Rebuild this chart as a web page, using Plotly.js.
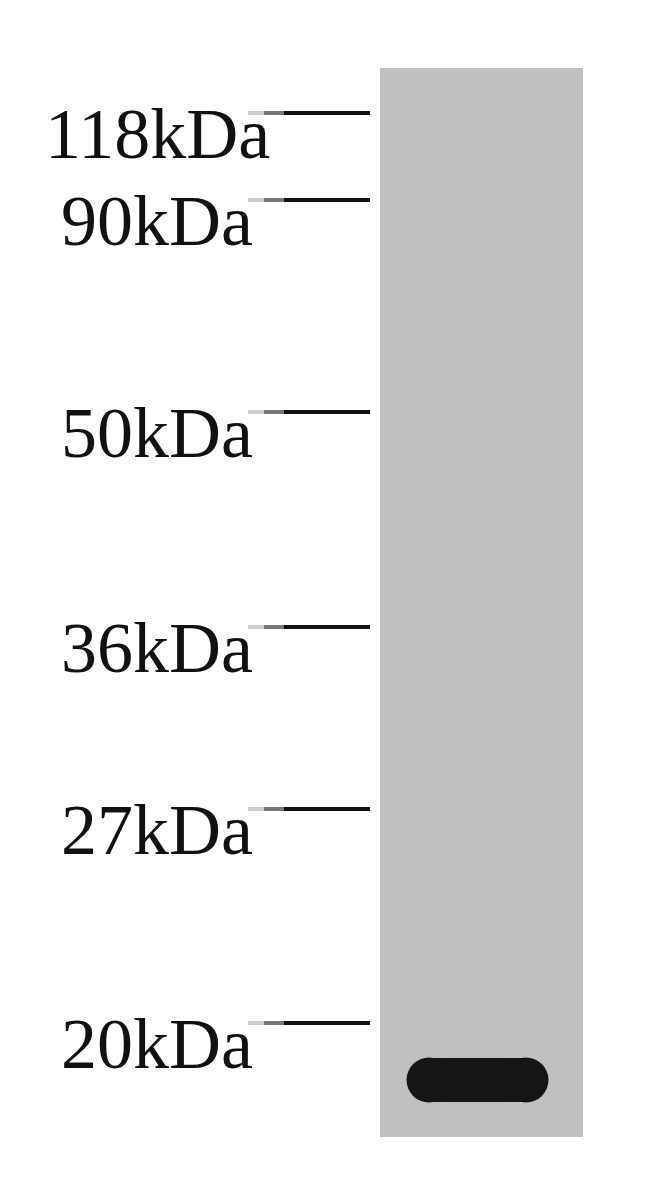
<!DOCTYPE html>
<html>
<head>
<meta charset="utf-8">
<script src="https://cdn.plot.ly/plotly-3.0.1.min.js"></script>
<style>
  html, body { margin: 0; padding: 0; background: #ffffff; }
  #blot { width: 650px; height: 1178px; }
</style>
</head>
<body>
<div id="blot"></div>
<script>
// ladder markers: label and migration position (px down the image)
const marker_labels = ['118kDa', '90kDa', '50kDa', '36kDa', '27kDa', '20kDa'];
const marker_positions = [113, 200, 412, 627, 809, 1023];

// lane 1 band: migration position and horizontal extent
const band_position = 1080;
const band_left = 429;
const band_right = 526;

// lane geometry
const lane_left = 380, lane_right = 583, lane_top = 68, lane_bottom = 1137;
const tick_fade = [[248, 264, '#cfcfcf'], [264, 284, '#777777'], [284, 370, '#111111']];
const label_x = 157;

let data = [];

// the grey lane
data.push({
    type: 'bar',
    x: [(lane_left + lane_right) / 2],
    y: [lane_bottom - lane_top],
    base: [lane_top],
    width: [lane_right - lane_left],
    marker: {color: '#c0c0c0', line: {width: 0}},
    hoverinfo: 'skip'
});

// ladder ticks, drawn in 3 pieces so the left end fades out
for (let i = 0; i < marker_positions.length; i++) {
    for (let s of tick_fade) {
        data.push({
            type: 'scatter',
            mode: 'lines',
            x: [s[0], s[1]],
            y: [marker_positions[i], marker_positions[i]],
            line: {color: s[2], width: 4},
            hoverinfo: 'skip'
        });
    }
}

// the band: thick line with round ends from circle markers
data.push({
    type: 'scatter',
    mode: 'lines+markers',
    x: [band_left, band_right],
    y: [band_position, band_position],
    line: {color: '#151515', width: 44},
    marker: {color: '#151515', size: 45, line: {width: 0}},
    hoverinfo: 'skip'
});

let annotations = [];
for (let i = 0; i < marker_labels.length; i++) {
    annotations.push({
        x: label_x,
        y: marker_positions[i],
        xref: 'x',
        yref: 'y',
        text: marker_labels[i],
        showarrow: false,
        xanchor: 'center',
        yanchor: 'middle',
        yshift: -21,
        font: {family: 'Liberation Serif', size: 72, color: '#111111'}
    });
}

let layout = {
    width: 650,
    height: 1178,
    margin: {t: 0, b: 0, l: 0, r: 0},
    paper_bgcolor: '#ffffff',
    plot_bgcolor: '#ffffff',
    showlegend: false,
    bargap: 0,
    xaxis: {range: [0, 650], visible: false, fixedrange: true},
    yaxis: {range: [1178, 0], visible: false, fixedrange: true},
    annotations: annotations
};

Plotly.newPlot('blot', data, layout, {staticPlot: true});
</script>
</body>
</html>
